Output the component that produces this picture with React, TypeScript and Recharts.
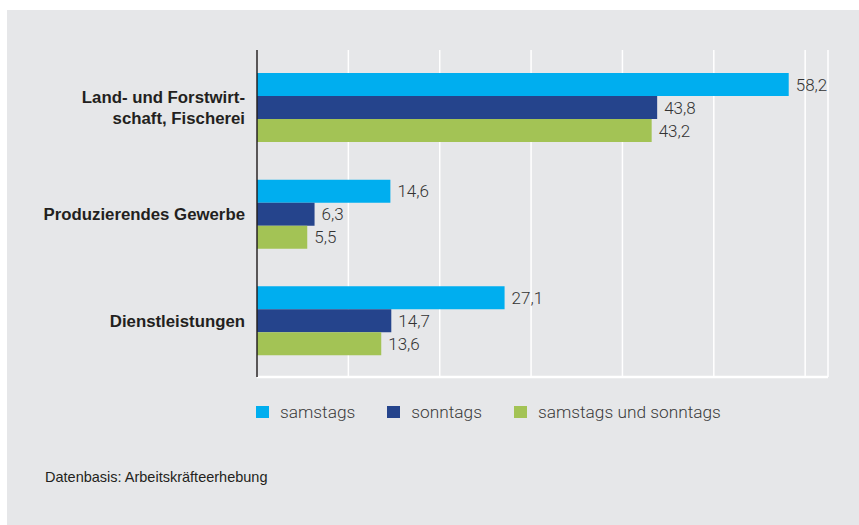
import React from "react";
import {
  BarChart,
  Bar,
  XAxis,
  YAxis,
  CartesianGrid,
  LabelList,
} from "recharts";

const categories = [
  "Land- und Forstwirt-\nschaft, Fischerei",
  "Produzierendes Gewerbe",
  "Dienstleistungen",
];
const samstags = [58.2, 14.6, 27.1];
const sonntags = [43.8, 6.3, 14.7];
const beide = [43.2, 5.5, 13.6];
const xTicks = [0, 10, 20, 30, 40, 50, 60];

const seriesInfo = [
  { key: "samstags", name: "samstags", color: "#00aeef" },
  { key: "sonntags", name: "sonntags", color: "#25448c" },
  { key: "beide", name: "samstags und sonntags", color: "#a3c355" },
];

const data = categories.map((cat, i) => ({
  cat,
  samstags: samstags[i],
  sonntags: sonntags[i],
  beide: beide[i],
}));

const fmt = (v: any) => Number(v).toFixed(1).replace(".", ",");

const CategoryTick = ({ x, y, payload }: any) => {
  const lines = String(payload.value).split("\n");
  const lh = 21;
  const start = y - ((lines.length - 1) * lh) / 2;
  return (
    <text
      x={x - 4}
      y={start}
      textAnchor="end"
      dominantBaseline="central"
      fontFamily="'Liberation Sans', Arial, sans-serif"
      fontWeight="bold"
      fontSize={16.8}
      fill="#231f20"
    >
      {lines.map((l, i) => (
        <tspan key={i} x={x - 4} dy={i === 0 ? 0 : lh}>
          {l}
        </tspan>
      ))}
    </text>
  );
};

// x axis has no visible numbers, only the grid
const NoTick = () => <g />;

// legend drawn as plain html under the plot
const LegendBox = () => (
  <div
    style={{
      position: "absolute",
      left: 249,
      top: 392,
      display: "flex",
      alignItems: "center",
    }}
  >
    {seriesInfo.map((s) => (
      <div
        key={s.key}
        style={{ display: "flex", alignItems: "center", marginRight: 32 }}
      >
        <span
          style={{
            width: 13,
            height: 12,
            background: s.color,
            display: "inline-block",
            marginRight: 11,
          }}
        />
        <span
          style={{
            fontFamily: "Roboto, sans-serif",
            fontWeight: 300,
            fontSize: 17.3,
            color: "#3a3a3a",
          }}
        >
          {s.name}
        </span>
      </div>
    ))}
  </div>
);

export default function App() {
  return (
    <div
      style={{
        position: "absolute",
        left: 0,
        top: 0,
        width: 859,
        height: 525,
        background: "#ffffff",
      }}
    >
      <div
        style={{
          position: "absolute",
          left: 7,
          top: 10,
          width: 852,
          height: 515,
          background: "#e6e7e9",
        }}
      >
        <BarChart
          width={852}
          height={515}
          data={data}
          layout="vertical"
          margin={{ top: 40, right: 31, left: 0, bottom: 147 }}
          barCategoryGap="17.5%"
          barGap={0}
        >
          <CartesianGrid horizontal={false} stroke="#ffffff" strokeWidth={1.5} />
          <XAxis
            type="number"
            domain={[0, 62.5]}
            ticks={xTicks}
            tick={<NoTick />}
            tickLine={false}
            axisLine={{ stroke: "#ffffff", strokeWidth: 2.5 }}
            height={1}
          />
          <YAxis
            type="category"
            dataKey="cat"
            width={250}
            tickLine={false}
            axisLine={{ stroke: "#231f20", strokeWidth: 1.5 }}
            tick={<CategoryTick />}
            padding={{ top: 4, bottom: 3 }}
            interval={0}
          />
          {seriesInfo.map((s) => (
            <Bar
              key={s.key}
              dataKey={s.key}
              name={s.name}
              fill={s.color}
              barSize={23}
              isAnimationActive={false}
            >
              <LabelList
                dataKey={s.key}
                position="right"
                offset={7}
                formatter={fmt}
                style={{
                  fontFamily: "Roboto, sans-serif",
                  fontWeight: 300,
                  fontSize: 17,
                  fill: "#333333",
                }}
              />
            </Bar>
          ))}
        </BarChart>
        <LegendBox />
        <div
          style={{
            position: "absolute",
            left: 38,
            top: 459,
            fontFamily: "'Liberation Sans', Arial, sans-serif",
            fontSize: 14.5,
            color: "#231f20",
          }}
        >
          Datenbasis: Arbeitskräfteerhebung
        </div>
      </div>
    </div>
  );
}
